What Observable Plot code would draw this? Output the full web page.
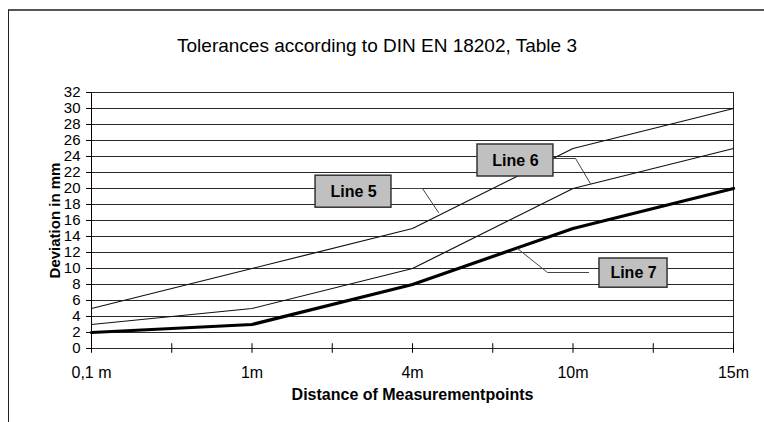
<!DOCTYPE html>
<html>
<head>
<meta charset="utf-8">
<script src="https://cdn.jsdelivr.net/npm/d3@7"></script>
<script src="https://cdn.jsdelivr.net/npm/@observablehq/plot@0.6"></script>
<style>
  html, body { margin: 0; padding: 0; background: #fff; }
  body { width: 764px; height: 422px; position: relative; overflow: hidden; font-family: "Liberation Sans", Arial, sans-serif; }
  #frame { position: absolute; left: 8px; top: 9px; width: 800px; height: 500px; border-left: 1px solid #222; border-top: 2px solid #555; }
  #title { position: absolute; left: 0; top: 35px; width: 754px; text-align: center; font-size: 19px; color: #000; }
  #chart { position: absolute; left: 0; top: 0; }
</style>
</head>
<body>
<div id="frame"></div>
<div id="title">Tolerances according to DIN EN 18202, Table 3</div>
<div id="chart"></div>
<script>
// ---- data ----
const categories = ["0,1 m", "1m", "4m", "10m", "15m"];
const line5 = [5, 10, 15, 25, 30];
const line6 = [3, 5, 10, 20, 25];
const line7 = [2, 3, 8, 15, 20];
const yTicks = d3.range(0, 33, 2);
const seriesNames = ["Line 5", "Line 6", "Line 7"];

// callout annotations (in data units: x = category index, y = mm)
const calloutBoxes = [
  {name: "Line 5", x1: 1.396, x2: 1.869, y1: 17.6, y2: 21.6},
  {name: "Line 6", x1: 2.405, x2: 2.878, y1: 21.5, y2: 25.5},
  {name: "Line 7", x1: 3.165, x2: 3.589, y1: 7.6, y2: 11.25}
];
const leaders = [
  {name: "Line 5", pts: [[1.925, 20], [2.062, 20], [2.162, 17]]},
  {name: "Line 6", pts: [[2.878, 23.75], [3.016, 23.75], [3.109, 20.6]]},
  {name: "Line 7", pts: [[3.097, 9.5], [2.841, 9.5], [2.654, 12.5]]}
];

const rows = [];
[line5, line6, line7].forEach((vals, s) => vals.forEach((v, i) => rows.push({series: seriesNames[s], i, v})));
const leaderRows = leaders.flatMap(l => l.pts.map(([x, y]) => ({name: l.name, x, y})));
const midTicks = d3.range(0, categories.length - 0.99, 0.5);

const chart = Plot.plot({
  width: 764,
  height: 422,
  marginLeft: 91,
  marginRight: 31,
  marginTop: 92,
  marginBottom: 74,
  style: {fontFamily: "Liberation Sans, Arial, sans-serif", fontSize: "14px", color: "#000", background: "transparent"},
  x: {type: "linear", domain: [0, categories.length - 1], axis: null},
  y: {type: "linear", domain: [0, 32], axis: null},
  marks: [
    // gridlines
    Plot.ruleY(yTicks, {x1: 0, x2: categories.length - 1, stroke: "#111", strokeWidth: 1, strokeOpacity: 0.9}),
    // right edge of plot area
    Plot.ruleX([categories.length - 1], {stroke: "#222", y1: 0, y2: 32}),
    // y axis line + ticks
    Plot.ruleX([0], {stroke: "#000", y1: 0, y2: 32}),
    Plot.ruleY(yTicks, {x1: -0.031, x2: 0, stroke: "#000"}),
    Plot.text(yTicks, {x: 0, y: d => d, text: d => String(d), textAnchor: "end", dx: -11, fontSize: 15, fill: "#000"}),
    // x axis ticks and labels
    Plot.ruleX(midTicks, {x: d => d, y1: -0.6, y2: 0.6, stroke: "#000"}),
    Plot.text(categories, {x: (d, i) => i, y: 0, text: d => d, dy: 24, fontSize: 16, fill: "#000"}),
    // axis titles
    Plot.text(["Deviation in mm"], {frameAnchor: "left", textAnchor: "middle", dx: -36, rotate: -90, fontWeight: "bold", fontSize: 15, fill: "#000"}),
    Plot.text(["Distance of Measurementpoints"], {frameAnchor: "bottom", textAnchor: "middle", dy: 51, fontWeight: "bold", fontSize: 16, fill: "#000"}),
    // series
    Plot.line(rows.filter(d => d.series !== "Line 7"), {x: "i", y: "v", z: "series", stroke: "#111", strokeWidth: 1.2}),
    Plot.line(rows.filter(d => d.series === "Line 7"), {x: "i", y: "v", stroke: "#000", strokeWidth: 3.2}),
    // callout leaders
    Plot.line(leaderRows, {x: "x", y: "y", z: "name", stroke: "#444", strokeWidth: 1}),
    // callout boxes
    Plot.rect(calloutBoxes, {x1: "x1", x2: "x2", y1: "y1", y2: "y2", fill: "#c0c0c0", stroke: "#333", strokeWidth: 1.5}),
    Plot.text(calloutBoxes, {x: d => (d.x1 + d.x2) / 2, y: d => (d.y1 + d.y2) / 2, text: "name", fontWeight: "bold", fontSize: 16, fill: "#000"})
  ]
});
document.getElementById("chart").appendChild(chart);
</script>
</body>
</html>
